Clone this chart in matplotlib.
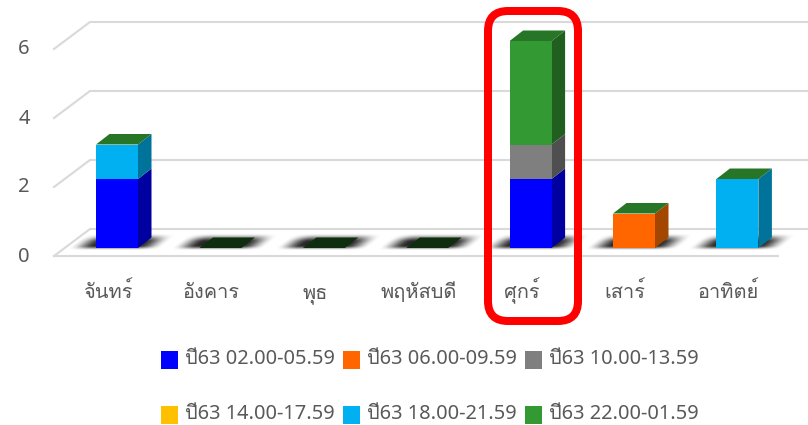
import numpy as np
import matplotlib
matplotlib.use("Agg")
import matplotlib.pyplot as plt
from matplotlib.patches import Polygon, Rectangle, FancyBboxPatch
from matplotlib.transforms import ScaledTranslation, IdentityTransform

categories = ["จันทร์", "อังคาร", "พุธ", "พฤหัสบดี", "ศุกร์", "เสาร์", "อาทิตย์"]
labels = ["ปี63 02.00-05.59", "ปี63 06.00-09.59", "ปี63 10.00-13.59",
          "ปี63 14.00-17.59", "ปี63 18.00-21.59", "ปี63 22.00-01.59"]
s0205 = [2, 0, 0, 0, 2, 0, 0]
s0609 = [0, 0, 0, 0, 0, 1, 0]
s1013 = [0, 0, 0, 0, 1, 0, 0]
s1417 = [0, 0, 0, 0, 0, 0, 0]
s1821 = [1, 0, 0, 0, 0, 0, 2]
s2201 = [0, 0, 0, 0, 3, 0, 0]
series = [s0205, s0609, s1013, s1417, s1821, s2201]
colors = ["#0000FF", "#FF6600", "#7F7F7F", "#FFC000", "#00B0F0", "#339933"]
sides = ["#0000A0", "#A34600", "#4F4F4F", "#A37B00", "#00739B", "#215F21"]
yticks = [0, 2, 4, 6]

TXT = "#595959"
FONT = ["Noto Sans", "Loma", "DejaVu Sans"]
W, H = 808, 425
UX, UY = 103.4, 34.5          # pixels per category / per unit
X0, Y0 = 117, 248             # pixel of category 0 / value 0
AL, AB = 40, 272              # axes left edge / bottom edge in pixels
DX, DY = 13.5 / UX, 10.5 / UY  # 3-D depth

fig = plt.figure(figsize=(W / 100, H / 100), dpi=100)
ax = fig.add_axes([AL / W, (H - AB) / H, (W - AL) / W, AB / H])
ax.patch.set_visible(False)
for sp in ax.spines.values():
    sp.set_visible(False)

# walls and floor
GRID = "#D9D9D9"
lw = 1.5
xf, xb = (54 - X0) / UX, (90 - X0) / UX
xr = (W + 5 - X0) / UX
y_front, y_back = -8 / UY, 19 / UY
for v in yticks:
    ax.plot([xf, xb, xr], [v + y_front, v + y_back, v + y_back], color=GRID, lw=lw,
            zorder=1, solid_joinstyle="miter", clip_on=False)
ax.plot([xf, (778 - X0) / UX], [y_front, y_front], color=GRID, lw=lw, zorder=1)


def smooth(t):
    t = np.clip(t, 0, 1)
    return t * t * (3 - 2 * t)


# shadows on the floor
x = np.arange(len(categories))
gx, gy = np.meshgrid(np.linspace(-62, 72, 268), np.linspace(-3, 20, 69))
shear = gx - gy * 1.25
core = smooth((47 - np.abs(shear + 2.5)) / 26)
vert = smooth((gy + 2.5) / 5) * smooth((15 - gy) / 9)
alpha = core * vert * 0.85
rgba = np.zeros(alpha.shape + (4,))
rgba[..., 3] = alpha
for i in x:
    ax.imshow(rgba, origin="lower", aspect="auto", zorder=2, interpolation="bilinear",
              extent=[i - 62 / UX, i + 72 / UX, -3 / UY, 20 / UY])
ax.set_xlim((AL - X0) / UX, (W - X0) / UX)
ax.set_ylim((Y0 - AB) / UY, Y0 / UY)

# stacked columns with side and top faces
bw = 42 / UX
bottom = np.zeros(len(categories))
for vals, c, sc in zip(series, colors, sides):
    vals = np.array(vals, dtype=float)
    ax.bar(x, vals, bw, bottom=bottom, color=c, linewidth=0, zorder=4)
    for i, v in enumerate(vals):
        if v > 0:
            r = i + bw / 2
            b = bottom[i]
            ax.add_patch(Polygon([(r, b), (r + DX, b + DY), (r + DX, b + v + DY), (r, b + v)],
                                 closed=True, fc=sc, ec="none", zorder=3.5))
    bottom = bottom + vals
for i, t in enumerate(bottom):
    l, r = i - bw / 2, i + bw / 2
    ax.add_patch(Polygon([(l, t), (r, t), (r + DX, t + DY), (l + DX, t + DY)], closed=True,
                         fc="#277527" if t > 0 else "#0F2E0F", ec="none", zorder=5))

# axis labels
ax.set_xticks(x, categories)
ax.set_yticks(yticks, [str(v) for v in yticks])
ax.tick_params(length=0, colors=TXT, pad=0)
for lab in ax.get_xticklabels():
    lab.set_fontfamily(FONT)
    lab.set_fontsize(14.4)
    lab.set_color(TXT)
    lab.set_verticalalignment("baseline")
    lab.set_transform(lab.get_transform() + ScaledTranslation(-9 / 100, -26.5 / 100, fig.dpi_scale_trans))
for lab in ax.get_yticklabels():
    lab.set_fontfamily(FONT)
    lab.set_fontsize(14.5)
    lab.set_color(TXT)
    lab.set_horizontalalignment("center")
    lab.set_transform(lab.get_transform() + ScaledTranslation(-(AL - 24) / 100, -6 / 100, fig.dpi_scale_trans))

# legend
col_x = [161, 343, 525]
row_y = [351, 406]
for k, (lb, c) in enumerate(zip(labels, colors)):
    px, py = col_x[k % 3], row_y[k // 3]
    fig.add_artist(Rectangle((px / W, 1 - (py + 18) / H), 17 / W, 18 / H, fc=c, ec="none",
                             transform=fig.transFigure))
    fig.text((px + 24) / W, 1 - (py + 13) / H, lb, family=FONT, fontsize=14.4, color=TXT,
             va="baseline", ha="left")

# red highlight box
fig.add_artist(FancyBboxPatch((488, H - 321), 90, 310, boxstyle="round,pad=0,rounding_size=20",
                              fc="none", ec="#FF0000", lw=5.76, transform=IdentityTransform(), zorder=10))

fig.savefig("out.png", dpi=100)
